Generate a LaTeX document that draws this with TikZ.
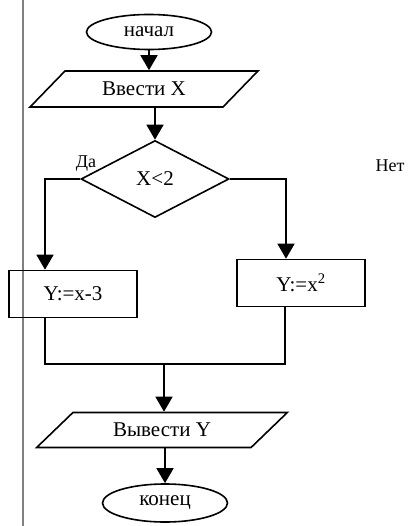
\documentclass[tikz,border=0pt]{standalone}
\usepackage{fontspec}
\setmainfont{Liberation Serif}
\usetikzlibrary{arrows.meta, shapes.geometric}

\begin{document}
\begin{tikzpicture}[x=1pt, y=-1pt, >={Triangle[length=15pt, width=17pt]}, line width=1.6pt,
  txt/.style={font=\fontsize{21}{24}\selectfont},
  mark label/.style={font=\fontsize{18}{21}\selectfont},
  term/.style={draw, ellipse, minimum width=125pt, minimum height=35pt, inner sep=0pt, txt},
  io/.style={draw, trapezium, trapezium stretches=true, inner sep=0pt, txt},
  proc/.style={draw, rectangle, minimum width=128pt, minimum height=47pt, inner sep=0pt, txt},
  cond/.style={draw, diamond, minimum width=148pt, minimum height=77pt, inner sep=0pt, txt}]
  \useasboundingbox (0,0) rectangle (414,526);
  % linea de margen
  \draw[gray, line width=1.3pt] (23,0) -- (23,526);
  % bloques
  \node[term] (nachalo) at (149,32) {начал};
  \node[io, trapezium left angle=37, trapezium right angle=143,
        minimum width=228pt, minimum height=36pt] (vvod) at (144,89) {Ввести X};
  \node[cond] (uslovie) at (155,179) {X<2};
  \node[proc] (levyj) at (73,294) {Y:=x-3};
  \node[proc] (pravyj) at (301,283) {Y:=x\textsuperscript{2}};
  \node[io, trapezium left angle=35, trapezium right angle=145,
        minimum width=251pt, minimum height=35pt] (vyvod) at (162,430) {Вывести Y};
  \node[term, minimum height=38pt] (konec) at (165,503) {конец};
  % etiquetas
  \node[mark label] (da) at (86,164) {Да};
  \node[mark label] (net) at (390,166) {Нет};
  % flechas
  \draw[->] (nachalo.south) -- (nachalo.south |- vvod.north);
  \draw[->] (uslovie.north |- vvod.south) -- (uslovie.north);
  \draw[->] (uslovie.west) -| ([xshift=-28pt]levyj.north);
  \draw[->] (uslovie.east) -| ([xshift=-15pt]pravyj.north);
  \coordinate (sbor) at (164,364);
  \draw ([xshift=-28pt]levyj.south) |- (sbor) -| ([xshift=-16pt]pravyj.south);
  \draw[->] (sbor) -- (sbor |- vyvod.north);
  \draw[->] (konec.north |- vyvod.south) -- (konec.north);
\end{tikzpicture}
\end{document}
